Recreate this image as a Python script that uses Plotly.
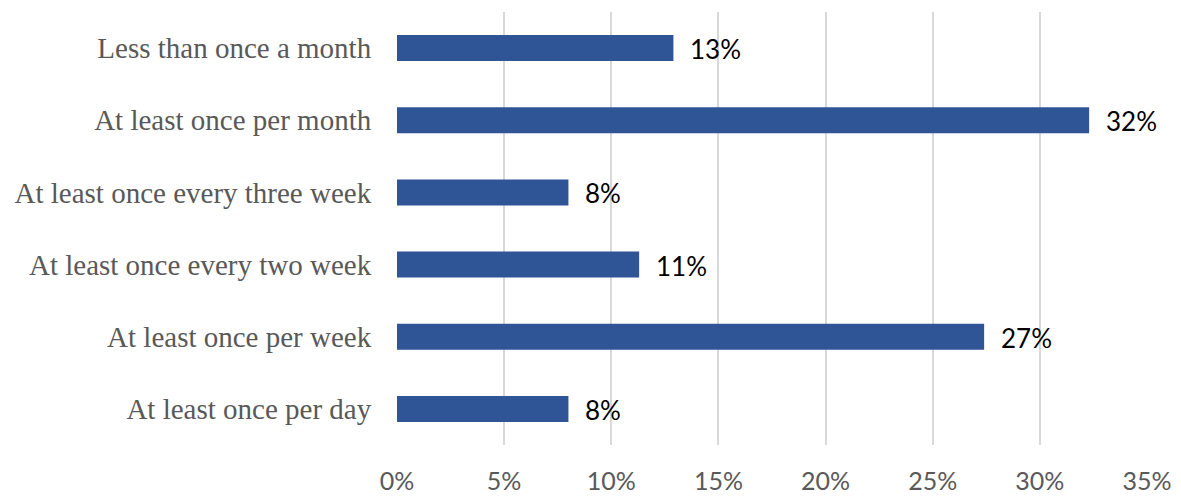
import plotly.graph_objects as go

categories = [
    "At least once per day",
    "At least once per week",
    "At least once every two week",
    "At least once every three week",
    "At least once per month",
    "Less than once a month",
]
values = [8.0, 27.4, 11.3, 8.0, 32.3, 12.9]
labels = ["8%", "27%", "11%", "8%", "32%", "13%"]
tick_vals = [0, 5, 10, 15, 20, 25, 30, 35]
tick_text = ["0%", "5%", "10%", "15%", "20%", "25%", "30%", "35%"]

bar_color = "#2F5597"
gray = "#595959"

fig = go.Figure()
fig.add_trace(go.Bar(
    x=values,
    y=categories,
    orientation="h",
    marker=dict(color=bar_color, line=dict(width=0)),
    showlegend=False,
    hoverinfo="x+y",
))

# value labels to the right of each bar
for cat, v, lab in zip(categories, values, labels):
    fig.add_annotation(
        x=v, y=cat, text=lab, showarrow=False,
        xanchor="left", yanchor="middle", xshift=15, yshift=-1,
        font=dict(family="Lato, Open Sans, sans-serif", size=26, color="#000000"),
    )

# page body has an 8px margin, so the figure is shrunk by that much
fig.update_layout(
    width=1173,
    height=490,
    margin=dict(l=389, r=34, t=4, b=53),
    paper_bgcolor="white",
    plot_bgcolor="white",
    bargap=0.64,
    xaxis=dict(
        range=[0, 35],
        tickvals=tick_vals,
        ticktext=tick_text,
        showgrid=True,
        gridcolor="#d9d9d9",
        gridwidth=1.5,
        zeroline=False,
        showline=False,
        ticks="outside",
        ticklen=0,
        ticklabelstandoff=14,
        automargin=False,
        tickfont=dict(family="Lato, Open Sans, sans-serif", size=25, color=gray),
    ),
    yaxis=dict(
        showgrid=False,
        zeroline=False,
        showline=False,
        ticks="outside",
        ticklen=0,
        ticklabelstandoff=19,
        automargin=False,
        tickfont=dict(family="Liberation Serif, Times New Roman, serif", size=29, color=gray),
    ),
)

fig.write_html("out.html")
